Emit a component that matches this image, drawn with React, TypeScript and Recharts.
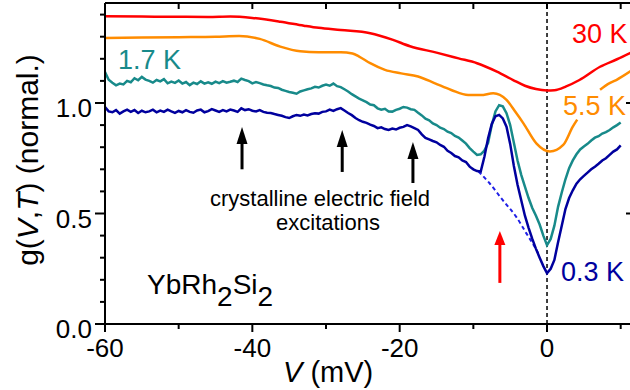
import React from 'react';
import { ComposedChart, Line, XAxis, YAxis, ReferenceLine } from 'recharts';

// ---- data ----
const voltsFine = [
  -60, -59.5, -59, -58.5, -58, -57.5, -57, -56.5, -56, -55.5,
  -55, -54.5, -54, -53.5, -53, -52.5, -52, -51.5, -51, -50.5,
  -50, -49.5, -49, -48.5, -48, -47.5, -47, -46.5, -46, -45.5,
  -45, -44.5, -44, -43.5, -43, -42.5, -42, -41.5, -41, -40.5,
  -40, -39.5, -39, -38.5, -38, -37.5, -37, -36.5, -36, -35.5,
  -35, -34.5, -34, -33.5, -33, -32.5, -32, -31.5, -31, -30.5,
  -30, -29.5, -29, -28.5, -28, -27.5, -27, -26.5, -26, -25.5,
  -25, -24.5, -24, -23.5, -23, -22.5, -22, -21.5, -21, -20.5,
  -20, -19.5, -19, -18.5, -18, -17.5, -17, -16.5, -16, -15.5,
  -15, -14.5, -14, -13.5, -13, -12.5, -12, -11.5, -11, -10.5,
  -10, -9.5, -9, -8.5, -8, -7.5, -7, -6.5, -6, -5.5,
  -5, -4.5, -4, -3.5, -3, -2.5, -2, -1.5, -1, -0.5,
  0, 0.5, 1, 1.5, 2, 2.5, 3, 3.5, 4, 4.5,
  5, 5.5, 6, 6.5, 7, 7.5, 8, 8.5, 9, 9.5,
  10,
];

const g17K = [
  1.140, 1.105, 1.092, 1.080, 1.088, 1.084, 1.100, 1.094, 1.112, 1.103,
  1.118, 1.106, 1.100, 1.092, 1.104, 1.098, 1.108, 1.089, 1.097, 1.091,
  1.102, 1.088, 1.095, 1.081, 1.092, 1.086, 1.098, 1.088, 1.094, 1.087,
  1.097, 1.090, 1.099, 1.092, 1.096, 1.101, 1.095, 1.110, 1.104, 1.099,
  1.089, 1.095, 1.090, 1.084, 1.080, 1.077, 1.070, 1.068, 1.060, 1.055,
  1.050, 1.046, 1.042, 1.052, 1.057, 1.062, 1.066, 1.073, 1.070, 1.078,
  1.083, 1.078, 1.088, 1.076, 1.072, 1.062, 1.052, 1.040, 1.030, 1.020,
  1.012, 1.004, 0.993, 0.990, 0.976, 0.970, 0.974, 0.962, 0.961, 0.969,
  0.974, 0.982, 0.979, 0.972, 0.969, 0.956, 0.944, 0.929, 0.922, 0.908,
  0.900, 0.888, 0.882, 0.870, 0.864, 0.851, 0.844, 0.830, 0.816, 0.796,
  0.780, 0.765, 0.768, 0.785, 0.820, 0.900, 0.962, 0.990, 0.985, 0.954,
  0.900, 0.820, 0.740, 0.675, 0.622, 0.570, 0.525, 0.490, 0.450, 0.400,
  0.357, 0.385, 0.445, 0.530, 0.595, 0.655, 0.705, 0.740, 0.768, 0.790,
  0.803, 0.815, 0.830, 0.843, 0.850, 0.862, 0.868, 0.878, 0.890, 0.900,
  0.912,
];

const g03K = [
  0.982, 0.962, 0.958, 0.968, 0.952, 0.962, 0.970, 0.960, 0.968, 0.955,
  0.965, 0.958, 0.962, 0.970, 0.958, 0.966, 0.960, 0.970, 0.962, 0.955,
  0.964, 0.958, 0.968, 0.960, 0.956, 0.966, 0.970, 0.958, 0.963, 0.972,
  0.966, 0.960, 0.968, 0.962, 0.970, 0.966, 0.960, 0.976, 0.968, 0.972,
  0.965, 0.962, 0.968, 0.960, 0.956, 0.955, 0.950, 0.946, 0.942, 0.936,
  0.932, 0.940, 0.946, 0.942, 0.948, 0.944, 0.950, 0.954, 0.952, 0.960,
  0.962, 0.970, 0.964, 0.972, 0.977, 0.966, 0.955, 0.945, 0.932, 0.922,
  0.915, 0.910, 0.902, 0.896, 0.886, 0.890, 0.882, 0.878, 0.884, 0.880,
  0.888, 0.892, 0.900, 0.894, 0.886, 0.878, 0.858, 0.842, 0.835, 0.828,
  0.822, 0.810, 0.802, 0.784, 0.774, 0.760, 0.754, 0.740, 0.733, 0.712,
  0.700, 0.692, 0.690, 0.757, 0.840, 0.905, 0.940, 0.946, 0.930, 0.893,
  0.815, 0.715, 0.630, 0.560, 0.490, 0.435, 0.385, 0.340, 0.300, 0.262,
  0.230, 0.250, 0.290, 0.370, 0.445, 0.520, 0.570, 0.605, 0.635, 0.655,
  0.670, 0.685, 0.700, 0.712, 0.725, 0.740, 0.750, 0.765, 0.780, 0.790,
  0.808,
];

const volts30K = [-60, -55, -50, -46, -43, -40, -36.2, -33, -31, -28, -24, -21, -18.6, -15, -12, -9.5, -6.8, -4.6, -3, -1.5, 0, 1, 2.6, 4.4, 7.2, 9.5, 11.4];
const g30K = [1.392, 1.391, 1.390, 1.389, 1.391, 1.385, 1.368, 1.350, 1.340, 1.330, 1.316, 1.287, 1.257, 1.228, 1.202, 1.180, 1.142, 1.104, 1.078, 1.063, 1.057, 1.058, 1.075, 1.104, 1.164, 1.198, 1.228];

const volts55K = [-60, -55, -50, -45, -41.8, -39, -36.2, -33.5, -31, -28, -26.4, -25.5, -24, -22, -19.8, -17.5, -15.2, -13, -10.7, -9, -7.3, -5.5, -4.3, -3.2, -1.45, 0.4, 2.2, 3.5, 4.1, 5.5, 7.2, 8.5, 9.4, 11.4];
const g55K: (number | null)[] = [1.294, 1.296, 1.298, 1.300, 1.303, 1.290, 1.255, 1.234, 1.230, 1.230, 1.224, 1.210, 1.180, 1.150, 1.134, 1.120, 1.089, 1.059, 1.036, 1.036, 1.044, 1.014, 0.960, 0.908, 0.817, 0.780, 0.810, 0.893, 0.925, null, 1.060, 1.090, 1.104, 1.145];

const voltsBg = [-9.3, -7.8, -6, -4.2, -2.8, -1.6, -1.2];
const gBg = [0.690, 0.637, 0.560, 0.486, 0.410, 0.345, 0.320];

const xTicks = [-60, -50, -40, -30, -20, -10, 0, 10];
const xLabelTicks = [-60, -40, -20, 0];
const yTicks = [0, 0.1, 0.2, 0.3, 0.4, 0.5, 0.6, 0.7, 0.8, 0.9, 1.0, 1.1, 1.2, 1.3, 1.4];
const yLabelTicks = [0, 0.5, 1.0];

// arrows: [V, gTail, gHead]
const cefArrows = [
  [-41.4, 0.70, 0.891],
  [-27.8, 0.688, 0.878],
  [-18.2, 0.638, 0.824],
];
const redArrow = [-6.4, 0.186, 0.421];

const X_DOMAIN: [number, number] = [-60, 11.4];
const Y_DOMAIN: [number, number] = [0, 1.4525];

const COLORS = {
  k30: '#ff0000',
  k55: '#ff8c00',
  k17: '#188a8a',
  k03: '#00009e',
  bg: '#1f1fe6',
};

const FONT = '"Liberation Sans", Arial, Helvetica, sans-serif';

const fineData = voltsFine.map((v, i) => ({ v, g17: g17K[i], g03: g03K[i] }));
const data30 = volts30K.map((v, i) => ({ v, g: g30K[i] }));
const data55 = volts55K.map((v, i) => ({ v, g: g55K[i] }));
const dataBg = voltsBg.map((v, i) => ({ v, g: gBg[i] }));

const isIn = (arr: number[], v: number) => arr.some((t) => Math.abs(t - v) < 1e-6);

const LeftTick = (props: any) => {
  const { x, y, payload } = props;
  const v = payload.value as number;
  const major = isIn(yLabelTicks, v);
  return (
    <g>
      <line x1={x - (major ? 10 : 5)} x2={x} y1={y} y2={y} stroke="#000" strokeWidth={2} />
      {major && (
        <text x={x - 13} y={y + 14} textAnchor="end" fontSize={26} fontFamily={FONT} fill="#000">
          {v.toFixed(1)}
        </text>
      )}
    </g>
  );
};

const BottomTick = (props: any) => {
  const { x, y, payload } = props;
  const v = payload.value as number;
  const major = isIn(xLabelTicks, v);
  return (
    <g>
      <line x1={x} x2={x} y1={y} y2={y + (major ? 8 : 5)} stroke="#000" strokeWidth={2} />
      {major && (
        <text x={x} y={y + 33} textAnchor="middle" fontSize={26} fontFamily={FONT} fill="#000">
          {String(v)}
        </text>
      )}
    </g>
  );
};

const TopTick = (props: any) => {
  const { x, y } = props;
  return <line x1={x} x2={x} y1={y} y2={y + 6} stroke="#000" strokeWidth={2} />;
};

const makeArrow = (color: string, headLen: number, headW: number) => (p: any) => {
  const { x1, y1, x2, y2 } = p;
  const x = (x1 + x2) / 2;
  const top = Math.min(y1, y2);
  const bottom = Math.max(y1, y2);
  return (
    <g>
      <line x1={x} x2={x} y1={bottom} y2={top + headLen - 1} stroke={color} strokeWidth={3} />
      <polygon points={`${x},${top} ${x - headW / 2},${top + headLen} ${x + headW / 2},${top + headLen}`} fill={color} />
    </g>
  );
};

// right-edge (mirror) tick marks, drawn 5 px long from the right frame
const rightTickShape = (p: any) => {
  const { x2, y1 } = p;
  return <line x1={x2 - 5} x2={x2} y1={y1} y2={y1} stroke="#000" strokeWidth={2} />;
};

const blackArrow = makeArrow('#000', 17, 11);
const redArrowShape = makeArrow('#ff0000', 14, 11);

export default function App() {
  return (
    <div style={{ position: 'absolute', left: 0, top: 0, width: 630, height: 390, overflow: 'hidden', background: '#fff' }}>
      <ComposedChart width={640} height={390} margin={{ top: 0, right: 9, bottom: 0, left: 0 }}>
        <XAxis
          xAxisId={0}
          type="number"
          dataKey="v"
          domain={X_DOMAIN}
          allowDataOverflow
          ticks={xTicks}
          interval={0}
          height={66}
          tickSize={0}
          tickMargin={0}
          tickLine={false}
          tick={<BottomTick />}
          axisLine={{ stroke: '#000', strokeWidth: 2 }}
        />
        <XAxis
          xAxisId="top"
          orientation="top"
          type="number"
          dataKey="v"
          domain={X_DOMAIN}
          allowDataOverflow
          ticks={xTicks}
          interval={0}
          height={3}
          tickSize={0}
          tickMargin={0}
          tickLine={false}
          tick={<TopTick />}
          axisLine={{ stroke: '#000', strokeWidth: 2 }}
        />
        <YAxis
          yAxisId={0}
          type="number"
          domain={Y_DOMAIN}
          allowDataOverflow
          ticks={yTicks}
          interval={0}
          width={105}
          tickSize={0}
          tickMargin={0}
          tickLine={false}
          tick={<LeftTick />}
          axisLine={{ stroke: '#000', strokeWidth: 2 }}
        />
        <ReferenceLine x={0} stroke="#000" strokeWidth={1.5} strokeDasharray="4 3" />
        <Line data={data30} dataKey="g" type="monotone" stroke={COLORS.k30} strokeWidth={2.5} dot={false} isAnimationActive={false} />
        <Line data={data55} dataKey="g" type="monotone" stroke={COLORS.k55} strokeWidth={2.5} dot={false} isAnimationActive={false} />
        <Line data={fineData} dataKey="g17" type="linear" stroke={COLORS.k17} strokeWidth={2.5} dot={false} isAnimationActive={false} />
        <Line data={dataBg} dataKey="g" type="monotone" stroke={COLORS.bg} strokeWidth={2} strokeDasharray="4 3" dot={false} isAnimationActive={false} />
        <Line data={fineData} dataKey="g03" type="linear" stroke={COLORS.k03} strokeWidth={2.5} dot={false} isAnimationActive={false} />
        {yLabelTicks.map((t) => (
          <ReferenceLine
            key={`rt${t}`}
            segment={[{ x: 10, y: t }, { x: X_DOMAIN[1], y: t }]}
            shape={rightTickShape}
          />
        ))}
        {cefArrows.map((a, i) => (
          <ReferenceLine
            key={i}
            segment={[{ x: a[0], y: a[1] }, { x: a[0], y: a[2] }]}
            stroke="#000"
            shape={blackArrow}
          />
        ))}
        <ReferenceLine
          segment={[{ x: redArrow[0], y: redArrow[1] }, { x: redArrow[0], y: redArrow[2] }]}
          stroke="#ff0000"
          shape={redArrowShape}
        />
      </ComposedChart>
      <svg width={630} height={390} style={{ position: 'absolute', left: 0, top: 0, pointerEvents: 'none' }} fontFamily={FONT}>
        <text x={572} y={43} fontSize={27} fill={COLORS.k30}>30 K</text>
        <text x={563} y={115} fontSize={27} fill={COLORS.k55}>5.5 K</text>
        <text x={118} y={69} fontSize={27} fill={COLORS.k17}>1.7 K</text>
        <text x={561} y={281} fontSize={27} fill={COLORS.k03}>0.3 K</text>
        <text x={147} y={294} fontSize={28} fill="#000">
          YbRh<tspan dy={12}>2</tspan><tspan dy={-12}>Si</tspan><tspan dy={12}>2</tspan>
        </text>
        <text x={320} y={206} fontSize={22} fill="#000" textAnchor="middle">crystalline electric field</text>
        <text x={328} y={230} fontSize={22} fill="#000" textAnchor="middle">excitations</text>
        <text x={283} y={382} fontSize={29} fill="#000">
          <tspan fontStyle="italic">V</tspan> (mV)
        </text>
        <text x={38} y={160} fontSize={30} fill="#000" textAnchor="middle" transform="rotate(-90, 38, 160)">
          g(<tspan fontStyle="italic">V</tspan>,<tspan fontStyle="italic">T</tspan>) (normal.)
        </text>
      </svg>
    </div>
  );
}
